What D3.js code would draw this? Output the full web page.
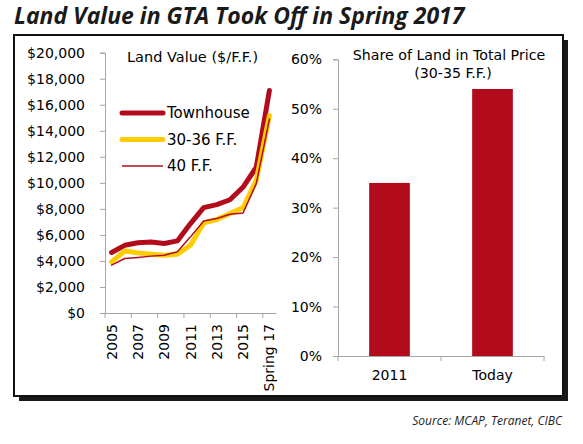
<!DOCTYPE html>
<html>
<head>
<meta charset="utf-8">
<script src="https://cdn.jsdelivr.net/npm/d3@7"></script>
<style>
  body { margin: 0; background: #fff; }
  text { font-family: "DejaVu Sans", sans-serif; fill: #000; }
</style>
</head>
<body>
<div id="chart"></div>
<script>
// data
var years = ["2005", "2006", "2007", "2008", "2009", "2010", "2011", "2012", "2013", "2014", "2015", "2016", "Spring 17"];
var yearLabels = ["2005", "2007", "2009", "2011", "2013", "2015", "Spring 17"];
var townhouse = [4650, 5200, 5400, 5460, 5340, 5540, 6870, 8100, 8330, 8700, 9680, 11200, 17100];
var ff3036 = [3930, 4770, 4620, 4520, 4440, 4520, 5210, 6920, 7180, 7640, 8100, 10200, 15170];
var ff40 = [3680, 4190, 4270, 4370, 4440, 4700, 5850, 7070, 7260, 7590, 7690, 9940, 14900];
var shareCats = ["2011", "Today"];
var shareVals = [0.35, 0.54];

var W = 583, H = 444;
var red = "#b20c1c", yellow = "#ffcc00", axisGrey = "#a6a6a6";

var svg = d3.select("#chart").append("svg")
    .attr("width", W)
    .attr("height", H);

// title
svg.append("text")
    .attr("x", 14)
    .attr("y", 24)
    .text("Land Value in GTA Took Off in Spring 2017")
    .style("font-family", "'Open Sans', sans-serif")
    .style("font-weight", "bold")
    .style("font-style", "italic")
    .style("font-size", "23px")
    .style("fill", "#1a1a1a");

// frame with drop shadow
svg.append("rect")
    .attr("x", 19).attr("y", 40)
    .attr("width", 549).attr("height", 361)
    .attr("fill", "#1a1a1a");
svg.append("rect")
    .attr("x", 14).attr("y", 35)
    .attr("width", 549).attr("height", 361)
    .attr("fill", "#fff")
    .attr("stroke", "#111")
    .attr("stroke-width", 2);

// ---------- left: land value lines ----------
var x = d3.scaleBand().domain(years).range([105, 276]);
var y = d3.scaleLinear().domain([0, 20000]).range([313, 52.7]);

var yAxis = svg.append("g")
    .attr("transform", "translate(105,0)")
    .call(d3.axisLeft(y)
        .tickValues(d3.range(0, 20001, 2000))
        .tickFormat(d3.format("$,"))
        .tickSize(5)
        .tickPadding(15));
yAxis.selectAll("text").style("font-size", "14px").style("fill", "#000");

var xAxis = svg.append("g")
    .attr("transform", "translate(0,313)")
    .call(d3.axisBottom(x).tickSize(0).tickFormat(""));

// tick marks sit between categories, every second one
svg.append("g").selectAll("line")
    .data(yearLabels)
    .enter().append("line")
    .attr("x1", function (d) { return x(d); })
    .attr("x2", function (d) { return x(d); })
    .attr("y1", 313).attr("y2", 318)
    .attr("stroke", axisGrey);

svg.append("g").selectAll("text")
    .data(yearLabels)
    .enter().append("text")
    .attr("transform", function (d) {
        return "translate(" + (x(d) + x.bandwidth() / 2 + 5) + ",324) rotate(-90)";
    })
    .attr("text-anchor", "end")
    .text(function (d) { return d; })
    .style("font-size", "14px");

[yAxis, xAxis].forEach(function (a) {
    a.selectAll(".domain").attr("stroke", axisGrey);
    a.selectAll(".tick line").attr("stroke", axisGrey);
});

svg.append("text")
    .attr("x", 127).attr("y", 62)
    .text("Land Value ($/F.F.)")
    .style("font-size", "14.5px");

var series = [
    { name: "Townhouse", values: townhouse, color: red, width: 5 },
    { name: "30-36 F.F.", values: ff3036, color: yellow, width: 5 },
    { name: "40 F.F.", values: ff40, color: red, width: 1.5 }
];

var line = d3.line()
    .x(function (d, i) { return x(years[i]) + x.bandwidth() / 2; })
    .y(function (d) { return y(d); });

series.forEach(function (s) {
    svg.append("path")
        .datum(s.values)
        .attr("d", line)
        .attr("fill", "none")
        .attr("stroke", s.color)
        .attr("stroke-width", s.width)
        .attr("stroke-linejoin", "round")
        .attr("stroke-linecap", "round");
});

// legend
var legend = svg.append("g").selectAll("g")
    .data(series)
    .enter().append("g")
    .attr("transform", function (d, i) { return "translate(122," + (113 + i * 26.5) + ")"; });
legend.append("line")
    .attr("x1", 0).attr("x2", 41)
    .attr("stroke", function (d) { return d.color; })
    .attr("stroke-width", function (d) { return d.width; })
    .attr("stroke-linecap", function (d) { return d.width > 2 ? "round" : "butt"; });
legend.append("text")
    .attr("x", 45).attr("dy", "0.36em")
    .text(function (d) { return d.name; })
    .style("font-size", "15px");

// ---------- right: share of land ----------
var xb = d3.scaleBand().domain(shareCats).range([338, 544]);
var yb = d3.scaleLinear().domain([0, 0.6]).range([356, 59.3]);

var ybAxis = svg.append("g")
    .attr("transform", "translate(338,0)")
    .call(d3.axisLeft(yb)
        .tickValues(d3.range(0, 0.61, 0.1))
        .tickFormat(d3.format(".0%"))
        .tickSize(5)
        .tickPadding(11));
ybAxis.selectAll("text").style("font-size", "14px").style("fill", "#000");

var xbAxis = svg.append("g")
    .attr("transform", "translate(0,356)")
    .call(d3.axisBottom(xb).tickSize(0).tickPadding(14));
xbAxis.selectAll("text").style("font-size", "14px").style("fill", "#000");

svg.append("g").selectAll("line")
    .data(xb.domain().concat(["end"]))
    .enter().append("line")
    .attr("x1", function (d) { return d === "end" ? xb.range()[1] : xb(d); })
    .attr("x2", function (d) { return d === "end" ? xb.range()[1] : xb(d); })
    .attr("y1", 356).attr("y2", 361)
    .attr("stroke", axisGrey);

[ybAxis, xbAxis].forEach(function (a) {
    a.selectAll(".domain").attr("stroke", axisGrey);
    a.selectAll(".tick line").attr("stroke", axisGrey);
});

var barW = xb.bandwidth() * 0.395;
svg.append("g").selectAll("rect")
    .data(shareVals)
    .enter().append("rect")
    .attr("x", function (d, i) { return xb(shareCats[i]) + (xb.bandwidth() - barW) / 2; })
    .attr("y", function (d) { return yb(d); })
    .attr("width", barW)
    .attr("height", function (d) { return yb(0) - yb(d); })
    .attr("fill", red);

svg.append("text")
    .attr("x", 449).attr("y", 60)
    .attr("text-anchor", "middle")
    .text("Share of Land in Total Price")
    .style("font-size", "14.2px");
svg.append("text")
    .attr("x", 453).attr("y", 78)
    .attr("text-anchor", "middle")
    .text("(30-35 F.F.)")
    .style("font-size", "14.2px");

// source
svg.append("text")
    .attr("x", 562).attr("y", 425)
    .attr("text-anchor", "end")
    .text("Source: MCAP, Teranet, CIBC")
    .style("font-family", "'Open Sans', sans-serif")
    .style("font-style", "italic")
    .style("font-size", "12px")
    .style("fill", "#222");
</script>
</body>
</html>
